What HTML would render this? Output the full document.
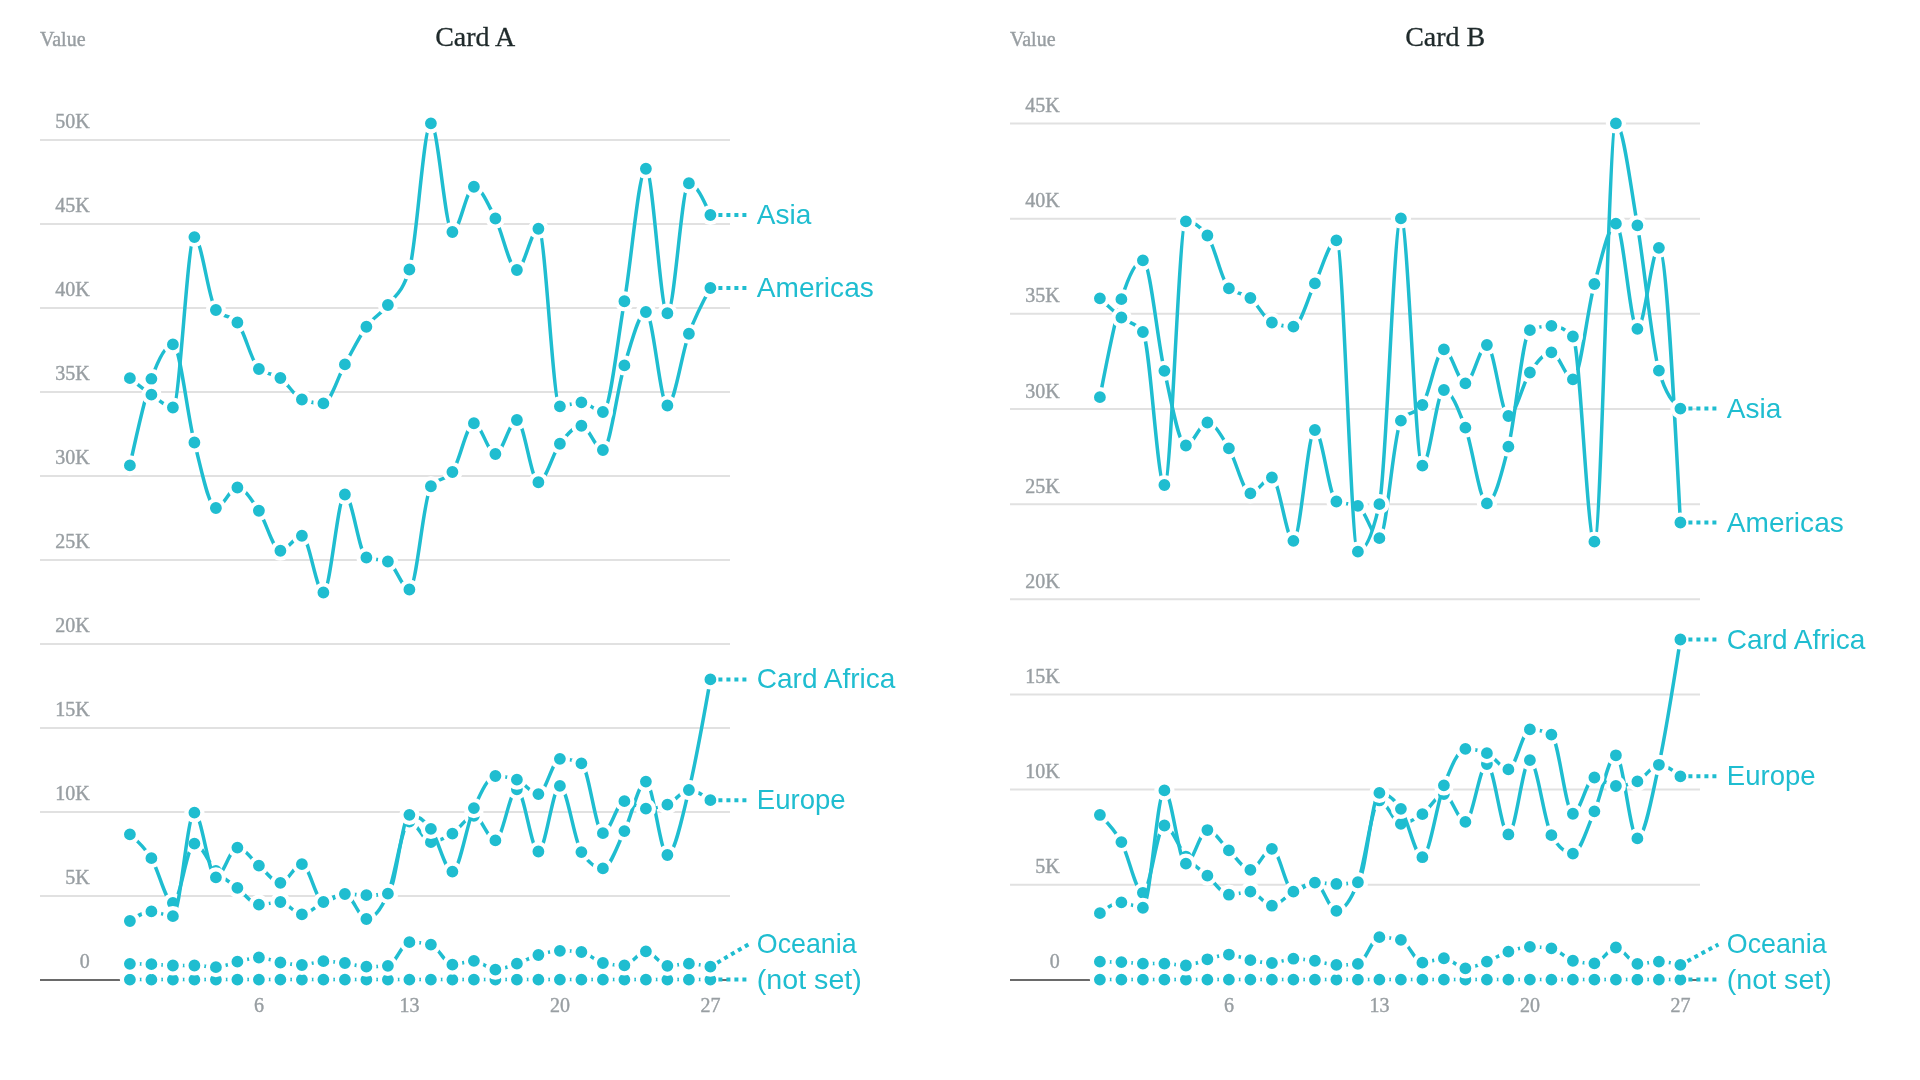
<!DOCTYPE html>
<html><head><meta charset="utf-8"><title>Cards</title>
<style>
html,body{margin:0;padding:0;background:#fff;}
body{width:1920px;height:1080px;overflow:hidden;}
svg{display:block;will-change:transform;}
.ax{font-family:"Liberation Serif",serif;font-size:20px;fill:#989ea2;stroke:#989ea2;stroke-width:0.4px;}
.ttl{font-family:"Liberation Serif",serif;font-size:28px;fill:#1f2a2b;stroke:#1f2a2b;stroke-width:0.3px;}
.ln{fill:none;stroke:#1fbdd0;stroke-width:3.5;stroke-linejoin:round;stroke-linecap:round;}
.mk circle{fill:#1fbdd0;stroke:#fff;stroke-width:4.2;}
.cn{stroke:#1fbdd0;stroke-width:4;stroke-dasharray:4 4;}
.lb{font-family:"Liberation Sans",sans-serif;font-size:27.5px;fill:#1fbdd0;}
</style></head>
<body>
<svg width="1920" height="1080" viewBox="0 0 1920 1080">
<text x="40.0" y="45.8" class="ax">Value</text>
<text x="475.2" y="45.9" class="ttl" text-anchor="middle">Card A</text>
<line x1="40.0" x2="730.0" y1="139.90" y2="139.90" stroke="#e1e1e1" stroke-width="2"/>
<text x="89.7" y="128.40" class="ax" text-anchor="end">50K</text>
<line x1="40.0" x2="730.0" y1="223.90" y2="223.90" stroke="#e1e1e1" stroke-width="2"/>
<text x="89.7" y="212.40" class="ax" text-anchor="end">45K</text>
<line x1="40.0" x2="730.0" y1="307.90" y2="307.90" stroke="#e1e1e1" stroke-width="2"/>
<text x="89.7" y="296.40" class="ax" text-anchor="end">40K</text>
<line x1="40.0" x2="730.0" y1="391.90" y2="391.90" stroke="#e1e1e1" stroke-width="2"/>
<text x="89.7" y="380.40" class="ax" text-anchor="end">35K</text>
<line x1="40.0" x2="730.0" y1="475.90" y2="475.90" stroke="#e1e1e1" stroke-width="2"/>
<text x="89.7" y="464.40" class="ax" text-anchor="end">30K</text>
<line x1="40.0" x2="730.0" y1="559.90" y2="559.90" stroke="#e1e1e1" stroke-width="2"/>
<text x="89.7" y="548.40" class="ax" text-anchor="end">25K</text>
<line x1="40.0" x2="730.0" y1="643.90" y2="643.90" stroke="#e1e1e1" stroke-width="2"/>
<text x="89.7" y="632.40" class="ax" text-anchor="end">20K</text>
<line x1="40.0" x2="730.0" y1="727.90" y2="727.90" stroke="#e1e1e1" stroke-width="2"/>
<text x="89.7" y="716.40" class="ax" text-anchor="end">15K</text>
<line x1="40.0" x2="730.0" y1="811.90" y2="811.90" stroke="#e1e1e1" stroke-width="2"/>
<text x="89.7" y="800.40" class="ax" text-anchor="end">10K</text>
<line x1="40.0" x2="730.0" y1="895.90" y2="895.90" stroke="#e1e1e1" stroke-width="2"/>
<text x="89.7" y="884.40" class="ax" text-anchor="end">5K</text>
<line x1="40.0" x2="730.0" y1="979.90" y2="979.90" stroke="#6a6a6a" stroke-width="2"/>
<text x="89.7" y="968.40" class="ax" text-anchor="end">0</text>
<text x="258.9" y="1011.7" class="ax" text-anchor="middle">6</text>
<text x="409.4" y="1011.7" class="ax" text-anchor="middle">13</text>
<text x="559.9" y="1011.7" class="ax" text-anchor="middle">20</text>
<text x="710.4" y="1011.7" class="ax" text-anchor="middle">27</text>
<path d="M129.90,979.60C137.07,979.60,144.23,979.60,151.40,979.60C158.57,979.60,165.73,979.60,172.90,979.60C180.07,979.60,187.23,979.60,194.40,979.60C201.57,979.60,208.73,979.60,215.90,979.60C223.07,979.60,230.23,979.60,237.40,979.60C244.57,979.60,251.73,979.60,258.90,979.60C266.07,979.60,273.23,979.60,280.40,979.60C287.57,979.60,294.73,979.60,301.90,979.60C309.07,979.60,316.23,979.60,323.40,979.60C330.57,979.60,337.73,979.60,344.90,979.60C352.07,979.60,359.23,979.60,366.40,979.60C373.57,979.60,380.73,979.60,387.90,979.60C395.07,979.60,402.23,979.60,409.40,979.60C416.57,979.60,423.73,979.60,430.90,979.60C438.07,979.60,445.23,979.60,452.40,979.60C459.57,979.60,466.73,979.60,473.90,979.60C481.07,979.60,488.23,979.60,495.40,979.60C502.57,979.60,509.73,979.60,516.90,979.60C524.07,979.60,531.23,979.60,538.40,979.60C545.57,979.60,552.73,979.60,559.90,979.60C567.07,979.60,574.23,979.60,581.40,979.60C588.57,979.60,595.73,979.60,602.90,979.60C610.07,979.60,617.23,979.60,624.40,979.60C631.57,979.60,638.73,979.60,645.90,979.60C653.07,979.60,660.23,979.60,667.40,979.60C674.57,979.60,681.73,979.60,688.90,979.60C696.07,979.60,703.23,979.60,710.40,979.60" class="ln"/>
<g class="mk"><circle cx="129.90" cy="979.60" r="8.0"/><circle cx="151.40" cy="979.60" r="8.0"/><circle cx="172.90" cy="979.60" r="8.0"/><circle cx="194.40" cy="979.60" r="8.0"/><circle cx="215.90" cy="979.60" r="8.0"/><circle cx="237.40" cy="979.60" r="8.0"/><circle cx="258.90" cy="979.60" r="8.0"/><circle cx="280.40" cy="979.60" r="8.0"/><circle cx="301.90" cy="979.60" r="8.0"/><circle cx="323.40" cy="979.60" r="8.0"/><circle cx="344.90" cy="979.60" r="8.0"/><circle cx="366.40" cy="979.60" r="8.0"/><circle cx="387.90" cy="979.60" r="8.0"/><circle cx="409.40" cy="979.60" r="8.0"/><circle cx="430.90" cy="979.60" r="8.0"/><circle cx="452.40" cy="979.60" r="8.0"/><circle cx="473.90" cy="979.60" r="8.0"/><circle cx="495.40" cy="979.60" r="8.0"/><circle cx="516.90" cy="979.60" r="8.0"/><circle cx="538.40" cy="979.60" r="8.0"/><circle cx="559.90" cy="979.60" r="8.0"/><circle cx="581.40" cy="979.60" r="8.0"/><circle cx="602.90" cy="979.60" r="8.0"/><circle cx="624.40" cy="979.60" r="8.0"/><circle cx="645.90" cy="979.60" r="8.0"/><circle cx="667.40" cy="979.60" r="8.0"/><circle cx="688.90" cy="979.60" r="8.0"/><circle cx="710.40" cy="979.60" r="8.0"/></g>
<path d="M129.90,465.40C137.07,432.18,144.23,398.97,151.40,378.80C158.57,358.63,165.73,344.40,172.90,344.40C180.07,344.40,187.23,415.23,194.40,442.50C201.57,469.77,208.73,508.00,215.90,508.00C223.07,508.00,230.23,487.50,237.40,487.50C244.57,487.50,251.73,500.21,258.90,510.75C266.07,521.29,273.23,550.75,280.40,550.75C287.57,550.75,294.73,535.75,301.90,535.75C309.07,535.75,316.23,592.50,323.40,592.50C330.57,592.50,337.73,494.50,344.90,494.50C352.07,494.50,359.23,554.83,366.40,557.50C373.57,560.17,380.73,558.83,387.90,561.50C395.07,564.17,402.23,589.50,409.40,589.50C416.57,589.50,423.73,495.75,430.90,486.25C438.07,476.75,445.23,481.50,452.40,472.00C459.57,462.50,466.73,423.25,473.90,423.25C481.07,423.25,488.23,454.00,495.40,454.00C502.57,454.00,509.73,420.00,516.90,420.00C524.07,420.00,531.23,482.25,538.40,482.25C545.57,482.25,552.73,453.17,559.90,443.75C567.07,434.33,574.23,425.75,581.40,425.75C588.57,425.75,595.73,450.00,602.90,450.00C610.07,450.00,617.23,388.40,624.40,365.40C631.57,342.40,638.73,312.00,645.90,312.00C653.07,312.00,660.23,405.50,667.40,405.50C674.57,405.50,681.73,353.33,688.90,333.75C696.07,314.17,703.23,301.08,710.40,288.00" class="ln"/>
<g class="mk"><circle cx="129.90" cy="465.40" r="8.0"/><circle cx="151.40" cy="378.80" r="8.0"/><circle cx="172.90" cy="344.40" r="8.0"/><circle cx="194.40" cy="442.50" r="8.0"/><circle cx="215.90" cy="508.00" r="8.0"/><circle cx="237.40" cy="487.50" r="8.0"/><circle cx="258.90" cy="510.75" r="8.0"/><circle cx="280.40" cy="550.75" r="8.0"/><circle cx="301.90" cy="535.75" r="8.0"/><circle cx="323.40" cy="592.50" r="8.0"/><circle cx="344.90" cy="494.50" r="8.0"/><circle cx="366.40" cy="557.50" r="8.0"/><circle cx="387.90" cy="561.50" r="8.0"/><circle cx="409.40" cy="589.50" r="8.0"/><circle cx="430.90" cy="486.25" r="8.0"/><circle cx="452.40" cy="472.00" r="8.0"/><circle cx="473.90" cy="423.25" r="8.0"/><circle cx="495.40" cy="454.00" r="8.0"/><circle cx="516.90" cy="420.00" r="8.0"/><circle cx="538.40" cy="482.25" r="8.0"/><circle cx="559.90" cy="443.75" r="8.0"/><circle cx="581.40" cy="425.75" r="8.0"/><circle cx="602.90" cy="450.00" r="8.0"/><circle cx="624.40" cy="365.40" r="8.0"/><circle cx="645.90" cy="312.00" r="8.0"/><circle cx="667.40" cy="405.50" r="8.0"/><circle cx="688.90" cy="333.75" r="8.0"/><circle cx="710.40" cy="288.00" r="8.0"/></g>
<path d="M129.90,378.20C137.07,384.01,144.23,389.82,151.40,394.70C158.57,399.58,165.73,407.50,172.90,407.50C180.07,407.50,187.23,237.10,194.40,237.10C201.57,237.10,208.73,301.67,215.90,310.00C223.07,318.33,230.23,314.17,237.40,322.50C244.57,330.83,251.73,363.00,258.90,369.00C266.07,375.00,273.23,372.92,280.40,378.00C287.57,383.08,294.73,396.97,301.90,399.50C309.07,402.03,316.23,403.30,323.40,403.30C330.57,403.30,337.73,377.16,344.90,364.40C352.07,351.64,359.23,336.65,366.40,326.75C373.57,316.85,380.73,314.54,387.90,305.00C395.07,295.46,402.23,293.17,409.40,269.50C416.57,245.83,423.73,123.30,430.90,123.30C438.07,123.30,445.23,232.00,452.40,232.00C459.57,232.00,466.73,186.75,473.90,186.75C481.07,186.75,488.23,204.62,495.40,218.50C502.57,232.38,509.73,270.00,516.90,270.00C524.07,270.00,531.23,228.75,538.40,228.75C545.57,228.75,552.73,406.30,559.90,406.30C567.07,406.30,574.23,402.30,581.40,402.30C588.57,402.30,595.73,412.00,602.90,412.00C610.07,412.00,617.23,341.79,624.40,301.25C631.57,260.71,638.73,168.75,645.90,168.75C653.07,168.75,660.23,313.25,667.40,313.25C674.57,313.25,681.73,183.25,688.90,183.25C696.07,183.25,703.23,199.12,710.40,215.00" class="ln"/>
<g class="mk"><circle cx="129.90" cy="378.20" r="8.0"/><circle cx="151.40" cy="394.70" r="8.0"/><circle cx="172.90" cy="407.50" r="8.0"/><circle cx="194.40" cy="237.10" r="8.0"/><circle cx="215.90" cy="310.00" r="8.0"/><circle cx="237.40" cy="322.50" r="8.0"/><circle cx="258.90" cy="369.00" r="8.0"/><circle cx="280.40" cy="378.00" r="8.0"/><circle cx="301.90" cy="399.50" r="8.0"/><circle cx="323.40" cy="403.30" r="8.0"/><circle cx="344.90" cy="364.40" r="8.0"/><circle cx="366.40" cy="326.75" r="8.0"/><circle cx="387.90" cy="305.00" r="8.0"/><circle cx="409.40" cy="269.50" r="8.0"/><circle cx="430.90" cy="123.30" r="8.0"/><circle cx="452.40" cy="232.00" r="8.0"/><circle cx="473.90" cy="186.75" r="8.0"/><circle cx="495.40" cy="218.50" r="8.0"/><circle cx="516.90" cy="270.00" r="8.0"/><circle cx="538.40" cy="228.75" r="8.0"/><circle cx="559.90" cy="406.30" r="8.0"/><circle cx="581.40" cy="402.30" r="8.0"/><circle cx="602.90" cy="412.00" r="8.0"/><circle cx="624.40" cy="301.25" r="8.0"/><circle cx="645.90" cy="168.75" r="8.0"/><circle cx="667.40" cy="313.25" r="8.0"/><circle cx="688.90" cy="183.25" r="8.0"/><circle cx="710.40" cy="215.00" r="8.0"/></g>
<path d="M129.90,834.30C137.07,840.52,144.23,846.75,151.40,858.20C158.57,869.65,165.73,903.00,172.90,903.00C180.07,903.00,187.23,843.60,194.40,843.60C201.57,843.60,208.73,863.62,215.90,871.00C223.07,878.38,230.23,882.28,237.40,887.90C244.57,893.52,251.73,904.70,258.90,904.70C266.07,904.70,273.23,902.00,280.40,902.00C287.57,902.00,294.73,914.40,301.90,914.40C309.07,914.40,316.23,905.40,323.40,902.00C330.57,898.60,337.73,894.00,344.90,894.00C352.07,894.00,359.23,919.00,366.40,919.00C373.57,919.00,380.73,909.95,387.90,893.70C395.07,877.45,402.23,821.50,409.40,821.50C416.57,821.50,423.73,842.20,430.90,842.20C438.07,842.20,445.23,838.00,452.40,833.60C459.57,829.20,466.73,815.80,473.90,815.80C481.07,815.80,488.23,840.40,495.40,840.40C502.57,840.40,509.73,789.30,516.90,789.30C524.07,789.30,531.23,851.50,538.40,851.50C545.57,851.50,552.73,785.90,559.90,785.90C567.07,785.90,574.23,841.23,581.40,852.10C588.57,862.97,595.73,868.40,602.90,868.40C610.07,868.40,617.23,845.57,624.40,831.10C631.57,816.63,638.73,781.60,645.90,781.60C653.07,781.60,660.23,855.00,667.40,855.00C674.57,855.00,681.73,819.27,688.90,790.00C696.07,760.73,703.23,720.07,710.40,679.40" class="ln"/>
<g class="mk"><circle cx="129.90" cy="834.30" r="8.0"/><circle cx="151.40" cy="858.20" r="8.0"/><circle cx="172.90" cy="903.00" r="8.0"/><circle cx="194.40" cy="843.60" r="8.0"/><circle cx="215.90" cy="871.00" r="8.0"/><circle cx="237.40" cy="887.90" r="8.0"/><circle cx="258.90" cy="904.70" r="8.0"/><circle cx="280.40" cy="902.00" r="8.0"/><circle cx="301.90" cy="914.40" r="8.0"/><circle cx="323.40" cy="902.00" r="8.0"/><circle cx="344.90" cy="894.00" r="8.0"/><circle cx="366.40" cy="919.00" r="8.0"/><circle cx="387.90" cy="893.70" r="8.0"/><circle cx="409.40" cy="821.50" r="8.0"/><circle cx="430.90" cy="842.20" r="8.0"/><circle cx="452.40" cy="833.60" r="8.0"/><circle cx="473.90" cy="815.80" r="8.0"/><circle cx="495.40" cy="840.40" r="8.0"/><circle cx="516.90" cy="789.30" r="8.0"/><circle cx="538.40" cy="851.50" r="8.0"/><circle cx="559.90" cy="785.90" r="8.0"/><circle cx="581.40" cy="852.10" r="8.0"/><circle cx="602.90" cy="868.40" r="8.0"/><circle cx="624.40" cy="831.10" r="8.0"/><circle cx="645.90" cy="781.60" r="8.0"/><circle cx="667.40" cy="855.00" r="8.0"/><circle cx="688.90" cy="790.00" r="8.0"/><circle cx="710.40" cy="679.40" r="8.0"/></g>
<path d="M129.90,921.00C137.07,916.20,144.23,911.40,151.40,911.40C158.57,911.40,165.73,916.20,172.90,916.20C180.07,916.20,187.23,812.60,194.40,812.60C201.57,812.60,208.73,877.30,215.90,877.30C223.07,877.30,230.23,847.60,237.40,847.60C244.57,847.60,251.73,859.73,258.90,865.60C266.07,871.47,273.23,882.80,280.40,882.80C287.57,882.80,294.73,864.20,301.90,864.20C309.07,864.20,316.23,902.00,323.40,902.00C330.57,902.00,337.73,894.00,344.90,894.00C352.07,894.00,359.23,895.20,366.40,895.20C373.57,895.20,380.73,894.70,387.90,893.70C395.07,892.70,402.23,814.80,409.40,814.80C416.57,814.80,423.73,819.50,430.90,828.90C438.07,838.30,445.23,871.60,452.40,871.60C459.57,871.60,466.73,824.03,473.90,808.10C481.07,792.17,488.23,776.00,495.40,776.00C502.57,776.00,509.73,777.23,516.90,779.70C524.07,782.17,531.23,794.10,538.40,794.10C545.57,794.10,552.73,758.80,559.90,758.80C567.07,758.80,574.23,760.30,581.40,763.30C588.57,766.30,595.73,833.20,602.90,833.20C610.07,833.20,617.23,801.20,624.40,801.20C631.57,801.20,638.73,808.70,645.90,808.70C653.07,808.70,660.23,807.37,667.40,804.70C674.57,802.03,681.73,790.00,688.90,790.00C696.07,790.00,703.23,795.10,710.40,800.20" class="ln"/>
<g class="mk"><circle cx="129.90" cy="921.00" r="8.0"/><circle cx="151.40" cy="911.40" r="8.0"/><circle cx="172.90" cy="916.20" r="8.0"/><circle cx="194.40" cy="812.60" r="8.0"/><circle cx="215.90" cy="877.30" r="8.0"/><circle cx="237.40" cy="847.60" r="8.0"/><circle cx="258.90" cy="865.60" r="8.0"/><circle cx="280.40" cy="882.80" r="8.0"/><circle cx="301.90" cy="864.20" r="8.0"/><circle cx="323.40" cy="902.00" r="8.0"/><circle cx="344.90" cy="894.00" r="8.0"/><circle cx="366.40" cy="895.20" r="8.0"/><circle cx="387.90" cy="893.70" r="8.0"/><circle cx="409.40" cy="814.80" r="8.0"/><circle cx="430.90" cy="828.90" r="8.0"/><circle cx="452.40" cy="871.60" r="8.0"/><circle cx="473.90" cy="808.10" r="8.0"/><circle cx="495.40" cy="776.00" r="8.0"/><circle cx="516.90" cy="779.70" r="8.0"/><circle cx="538.40" cy="794.10" r="8.0"/><circle cx="559.90" cy="758.80" r="8.0"/><circle cx="581.40" cy="763.30" r="8.0"/><circle cx="602.90" cy="833.20" r="8.0"/><circle cx="624.40" cy="801.20" r="8.0"/><circle cx="645.90" cy="808.70" r="8.0"/><circle cx="667.40" cy="804.70" r="8.0"/><circle cx="688.90" cy="790.00" r="8.0"/><circle cx="710.40" cy="800.20" r="8.0"/></g>
<path d="M129.90,963.80C137.07,963.87,144.23,963.93,151.40,964.20C158.57,964.47,165.73,965.50,172.90,965.50C180.07,965.50,187.23,965.50,194.40,965.50C201.57,965.50,208.73,967.20,215.90,967.20C223.07,967.20,230.23,963.32,237.40,961.70C244.57,960.08,251.73,957.50,258.90,957.50C266.07,957.50,273.23,961.25,280.40,962.50C287.57,963.75,294.73,965.00,301.90,965.00C309.07,965.00,316.23,961.20,323.40,961.20C330.57,961.20,337.73,962.08,344.90,963.00C352.07,963.92,359.23,966.70,366.40,966.70C373.57,966.70,380.73,966.40,387.90,965.80C395.07,965.20,402.23,942.20,409.40,942.20C416.57,942.20,423.73,943.00,430.90,944.60C438.07,946.20,445.23,964.70,452.40,964.70C459.57,964.70,466.73,960.80,473.90,960.80C481.07,960.80,488.23,969.70,495.40,969.70C502.57,969.70,509.73,966.15,516.90,963.70C524.07,961.25,531.23,957.15,538.40,955.00C545.57,952.85,552.73,950.80,559.90,950.80C567.07,950.80,574.23,951.20,581.40,952.00C588.57,952.80,595.73,961.47,602.90,963.00C610.07,964.53,617.23,965.30,624.40,965.30C631.57,965.30,638.73,951.30,645.90,951.30C653.07,951.30,660.23,965.80,667.40,965.80C674.57,965.80,681.73,963.70,688.90,963.70C696.07,963.70,703.23,965.20,710.40,966.70" class="ln"/>
<g class="mk"><circle cx="129.90" cy="963.80" r="8.0"/><circle cx="151.40" cy="964.20" r="8.0"/><circle cx="172.90" cy="965.50" r="8.0"/><circle cx="194.40" cy="965.50" r="8.0"/><circle cx="215.90" cy="967.20" r="8.0"/><circle cx="237.40" cy="961.70" r="8.0"/><circle cx="258.90" cy="957.50" r="8.0"/><circle cx="280.40" cy="962.50" r="8.0"/><circle cx="301.90" cy="965.00" r="8.0"/><circle cx="323.40" cy="961.20" r="8.0"/><circle cx="344.90" cy="963.00" r="8.0"/><circle cx="366.40" cy="966.70" r="8.0"/><circle cx="387.90" cy="965.80" r="8.0"/><circle cx="409.40" cy="942.20" r="8.0"/><circle cx="430.90" cy="944.60" r="8.0"/><circle cx="452.40" cy="964.70" r="8.0"/><circle cx="473.90" cy="960.80" r="8.0"/><circle cx="495.40" cy="969.70" r="8.0"/><circle cx="516.90" cy="963.70" r="8.0"/><circle cx="538.40" cy="955.00" r="8.0"/><circle cx="559.90" cy="950.80" r="8.0"/><circle cx="581.40" cy="952.00" r="8.0"/><circle cx="602.90" cy="963.00" r="8.0"/><circle cx="624.40" cy="965.30" r="8.0"/><circle cx="645.90" cy="951.30" r="8.0"/><circle cx="667.40" cy="965.80" r="8.0"/><circle cx="688.90" cy="963.70" r="8.0"/><circle cx="710.40" cy="966.70" r="8.0"/></g>
<line x1="710.40" y1="979.60" x2="748.40" y2="979.60" class="cn"/>
<text x="756.8" y="988.65" class="lb" textLength="105.0" lengthAdjust="spacingAndGlyphs">(not set)</text>
<line x1="710.40" y1="288.00" x2="748.40" y2="288.00" class="cn"/>
<text x="756.8" y="297.05" class="lb" textLength="117.0" lengthAdjust="spacingAndGlyphs">Americas</text>
<line x1="710.40" y1="215.00" x2="748.40" y2="215.00" class="cn"/>
<text x="756.8" y="224.05" class="lb" textLength="54.5" lengthAdjust="spacingAndGlyphs">Asia</text>
<line x1="710.40" y1="679.40" x2="748.40" y2="679.40" class="cn"/>
<text x="756.8" y="688.45" class="lb" textLength="138.5" lengthAdjust="spacingAndGlyphs">Card Africa</text>
<line x1="710.40" y1="800.20" x2="748.40" y2="800.20" class="cn"/>
<text x="756.8" y="809.25" class="lb" textLength="88.8" lengthAdjust="spacingAndGlyphs">Europe</text>
<line x1="710.40" y1="966.70" x2="748.40" y2="944.40" class="cn"/>
<text x="756.8" y="953.05" class="lb" textLength="99.8" lengthAdjust="spacingAndGlyphs">Oceania</text>
<text x="1010.0" y="45.8" class="ax">Value</text>
<text x="1445.2" y="45.9" class="ttl" text-anchor="middle">Card B</text>
<line x1="1010.0" x2="1700.0" y1="123.55" y2="123.55" stroke="#e1e1e1" stroke-width="2"/>
<text x="1059.7" y="112.05" class="ax" text-anchor="end">45K</text>
<line x1="1010.0" x2="1700.0" y1="218.70" y2="218.70" stroke="#e1e1e1" stroke-width="2"/>
<text x="1059.7" y="207.20" class="ax" text-anchor="end">40K</text>
<line x1="1010.0" x2="1700.0" y1="313.85" y2="313.85" stroke="#e1e1e1" stroke-width="2"/>
<text x="1059.7" y="302.35" class="ax" text-anchor="end">35K</text>
<line x1="1010.0" x2="1700.0" y1="409.00" y2="409.00" stroke="#e1e1e1" stroke-width="2"/>
<text x="1059.7" y="397.50" class="ax" text-anchor="end">30K</text>
<line x1="1010.0" x2="1700.0" y1="504.15" y2="504.15" stroke="#e1e1e1" stroke-width="2"/>
<text x="1059.7" y="492.65" class="ax" text-anchor="end">25K</text>
<line x1="1010.0" x2="1700.0" y1="599.30" y2="599.30" stroke="#e1e1e1" stroke-width="2"/>
<text x="1059.7" y="587.80" class="ax" text-anchor="end">20K</text>
<line x1="1010.0" x2="1700.0" y1="694.45" y2="694.45" stroke="#e1e1e1" stroke-width="2"/>
<text x="1059.7" y="682.95" class="ax" text-anchor="end">15K</text>
<line x1="1010.0" x2="1700.0" y1="789.60" y2="789.60" stroke="#e1e1e1" stroke-width="2"/>
<text x="1059.7" y="778.10" class="ax" text-anchor="end">10K</text>
<line x1="1010.0" x2="1700.0" y1="884.75" y2="884.75" stroke="#e1e1e1" stroke-width="2"/>
<text x="1059.7" y="873.25" class="ax" text-anchor="end">5K</text>
<line x1="1010.0" x2="1700.0" y1="979.90" y2="979.90" stroke="#6a6a6a" stroke-width="2"/>
<text x="1059.7" y="968.40" class="ax" text-anchor="end">0</text>
<text x="1228.9" y="1011.7" class="ax" text-anchor="middle">6</text>
<text x="1379.4" y="1011.7" class="ax" text-anchor="middle">13</text>
<text x="1529.9" y="1011.7" class="ax" text-anchor="middle">20</text>
<text x="1680.4" y="1011.7" class="ax" text-anchor="middle">27</text>
<path d="M1099.90,979.60C1107.07,979.60,1114.23,979.60,1121.40,979.60C1128.57,979.60,1135.73,979.60,1142.90,979.60C1150.07,979.60,1157.23,979.60,1164.40,979.60C1171.57,979.60,1178.73,979.60,1185.90,979.60C1193.07,979.60,1200.23,979.60,1207.40,979.60C1214.57,979.60,1221.73,979.60,1228.90,979.60C1236.07,979.60,1243.23,979.60,1250.40,979.60C1257.57,979.60,1264.73,979.60,1271.90,979.60C1279.07,979.60,1286.23,979.60,1293.40,979.60C1300.57,979.60,1307.73,979.60,1314.90,979.60C1322.07,979.60,1329.23,979.60,1336.40,979.60C1343.57,979.60,1350.73,979.60,1357.90,979.60C1365.07,979.60,1372.23,979.60,1379.40,979.60C1386.57,979.60,1393.73,979.60,1400.90,979.60C1408.07,979.60,1415.23,979.60,1422.40,979.60C1429.57,979.60,1436.73,979.60,1443.90,979.60C1451.07,979.60,1458.23,979.60,1465.40,979.60C1472.57,979.60,1479.73,979.60,1486.90,979.60C1494.07,979.60,1501.23,979.60,1508.40,979.60C1515.57,979.60,1522.73,979.60,1529.90,979.60C1537.07,979.60,1544.23,979.60,1551.40,979.60C1558.57,979.60,1565.73,979.60,1572.90,979.60C1580.07,979.60,1587.23,979.60,1594.40,979.60C1601.57,979.60,1608.73,979.60,1615.90,979.60C1623.07,979.60,1630.23,979.60,1637.40,979.60C1644.57,979.60,1651.73,979.60,1658.90,979.60C1666.07,979.60,1673.23,979.60,1680.40,979.60" class="ln"/>
<g class="mk"><circle cx="1099.90" cy="979.60" r="8.0"/><circle cx="1121.40" cy="979.60" r="8.0"/><circle cx="1142.90" cy="979.60" r="8.0"/><circle cx="1164.40" cy="979.60" r="8.0"/><circle cx="1185.90" cy="979.60" r="8.0"/><circle cx="1207.40" cy="979.60" r="8.0"/><circle cx="1228.90" cy="979.60" r="8.0"/><circle cx="1250.40" cy="979.60" r="8.0"/><circle cx="1271.90" cy="979.60" r="8.0"/><circle cx="1293.40" cy="979.60" r="8.0"/><circle cx="1314.90" cy="979.60" r="8.0"/><circle cx="1336.40" cy="979.60" r="8.0"/><circle cx="1357.90" cy="979.60" r="8.0"/><circle cx="1379.40" cy="979.60" r="8.0"/><circle cx="1400.90" cy="979.60" r="8.0"/><circle cx="1422.40" cy="979.60" r="8.0"/><circle cx="1443.90" cy="979.60" r="8.0"/><circle cx="1465.40" cy="979.60" r="8.0"/><circle cx="1486.90" cy="979.60" r="8.0"/><circle cx="1508.40" cy="979.60" r="8.0"/><circle cx="1529.90" cy="979.60" r="8.0"/><circle cx="1551.40" cy="979.60" r="8.0"/><circle cx="1572.90" cy="979.60" r="8.0"/><circle cx="1594.40" cy="979.60" r="8.0"/><circle cx="1615.90" cy="979.60" r="8.0"/><circle cx="1637.40" cy="979.60" r="8.0"/><circle cx="1658.90" cy="979.60" r="8.0"/><circle cx="1680.40" cy="979.60" r="8.0"/></g>
<path d="M1099.90,397.20C1107.07,359.61,1114.23,322.02,1121.40,299.20C1128.57,276.38,1135.73,260.30,1142.90,260.30C1150.07,260.30,1157.23,339.93,1164.40,370.80C1171.57,401.67,1178.73,445.50,1185.90,445.50C1193.07,445.50,1200.23,422.50,1207.40,422.50C1214.57,422.50,1221.73,436.50,1228.90,448.30C1236.07,460.10,1243.23,493.30,1250.40,493.30C1257.57,493.30,1264.73,477.50,1271.90,477.50C1279.07,477.50,1286.23,540.80,1293.40,540.80C1300.57,540.80,1307.73,430.00,1314.90,430.00C1322.07,430.00,1329.23,498.63,1336.40,501.50C1343.57,504.37,1350.73,502.93,1357.90,505.80C1365.07,508.67,1372.23,538.20,1379.40,538.20C1386.57,538.20,1393.73,431.17,1400.90,420.70C1408.07,410.23,1415.23,415.47,1422.40,405.00C1429.57,394.53,1436.73,349.30,1443.90,349.30C1451.07,349.30,1458.23,383.30,1465.40,383.30C1472.57,383.30,1479.73,345.00,1486.90,345.00C1494.07,345.00,1501.23,416.00,1508.40,416.00C1515.57,416.00,1522.73,383.12,1529.90,372.50C1537.07,361.88,1544.23,352.30,1551.40,352.30C1558.57,352.30,1565.73,379.30,1572.90,379.30C1580.07,379.30,1587.23,309.93,1594.40,284.00C1601.57,258.07,1608.73,223.70,1615.90,223.70C1623.07,223.70,1630.23,328.80,1637.40,328.80C1644.57,328.80,1651.73,247.80,1658.90,247.80C1666.07,247.80,1673.23,385.15,1680.40,522.50" class="ln"/>
<g class="mk"><circle cx="1099.90" cy="397.20" r="8.0"/><circle cx="1121.40" cy="299.20" r="8.0"/><circle cx="1142.90" cy="260.30" r="8.0"/><circle cx="1164.40" cy="370.80" r="8.0"/><circle cx="1185.90" cy="445.50" r="8.0"/><circle cx="1207.40" cy="422.50" r="8.0"/><circle cx="1228.90" cy="448.30" r="8.0"/><circle cx="1250.40" cy="493.30" r="8.0"/><circle cx="1271.90" cy="477.50" r="8.0"/><circle cx="1293.40" cy="540.80" r="8.0"/><circle cx="1314.90" cy="430.00" r="8.0"/><circle cx="1336.40" cy="501.50" r="8.0"/><circle cx="1357.90" cy="505.80" r="8.0"/><circle cx="1379.40" cy="538.20" r="8.0"/><circle cx="1400.90" cy="420.70" r="8.0"/><circle cx="1422.40" cy="405.00" r="8.0"/><circle cx="1443.90" cy="349.30" r="8.0"/><circle cx="1465.40" cy="383.30" r="8.0"/><circle cx="1486.90" cy="345.00" r="8.0"/><circle cx="1508.40" cy="416.00" r="8.0"/><circle cx="1529.90" cy="372.50" r="8.0"/><circle cx="1551.40" cy="352.30" r="8.0"/><circle cx="1572.90" cy="379.30" r="8.0"/><circle cx="1594.40" cy="284.00" r="8.0"/><circle cx="1615.90" cy="223.70" r="8.0"/><circle cx="1637.40" cy="328.80" r="8.0"/><circle cx="1658.90" cy="247.80" r="8.0"/><circle cx="1680.40" cy="522.50" r="8.0"/></g>
<path d="M1099.90,298.30C1107.07,305.09,1114.23,311.88,1121.40,317.50C1128.57,323.12,1135.73,322.33,1142.90,332.00C1150.07,341.67,1157.23,485.00,1164.40,485.00C1171.57,485.00,1178.73,221.30,1185.90,221.30C1193.07,221.30,1200.23,226.03,1207.40,235.50C1214.57,244.97,1221.73,281.83,1228.90,288.30C1236.07,294.77,1243.23,292.30,1250.40,298.00C1257.57,303.70,1264.73,319.70,1271.90,322.50C1279.07,325.30,1286.23,326.70,1293.40,326.70C1300.57,326.70,1307.73,297.70,1314.90,283.30C1322.07,268.90,1329.23,240.30,1336.40,240.30C1343.57,240.30,1350.73,551.70,1357.90,551.70C1365.07,551.70,1372.23,535.87,1379.40,504.20C1386.57,472.53,1393.73,218.40,1400.90,218.40C1408.07,218.40,1415.23,465.70,1422.40,465.70C1429.57,465.70,1436.73,390.00,1443.90,390.00C1451.07,390.00,1458.23,408.82,1465.40,427.70C1472.57,446.58,1479.73,503.30,1486.90,503.30C1494.07,503.30,1501.23,475.55,1508.40,446.70C1515.57,417.85,1522.73,333.13,1529.90,330.20C1537.07,327.27,1544.23,325.80,1551.40,325.80C1558.57,325.80,1565.73,329.37,1572.90,336.50C1580.07,343.63,1587.23,541.70,1594.40,541.70C1601.57,541.70,1608.73,123.30,1615.90,123.30C1623.07,123.30,1630.23,184.08,1637.40,225.30C1644.57,266.52,1651.73,345.27,1658.90,370.60C1666.07,395.93,1673.23,402.27,1680.40,408.60" class="ln"/>
<g class="mk"><circle cx="1099.90" cy="298.30" r="8.0"/><circle cx="1121.40" cy="317.50" r="8.0"/><circle cx="1142.90" cy="332.00" r="8.0"/><circle cx="1164.40" cy="485.00" r="8.0"/><circle cx="1185.90" cy="221.30" r="8.0"/><circle cx="1207.40" cy="235.50" r="8.0"/><circle cx="1228.90" cy="288.30" r="8.0"/><circle cx="1250.40" cy="298.00" r="8.0"/><circle cx="1271.90" cy="322.50" r="8.0"/><circle cx="1293.40" cy="326.70" r="8.0"/><circle cx="1314.90" cy="283.30" r="8.0"/><circle cx="1336.40" cy="240.30" r="8.0"/><circle cx="1357.90" cy="551.70" r="8.0"/><circle cx="1379.40" cy="504.20" r="8.0"/><circle cx="1400.90" cy="218.40" r="8.0"/><circle cx="1422.40" cy="465.70" r="8.0"/><circle cx="1443.90" cy="390.00" r="8.0"/><circle cx="1465.40" cy="427.70" r="8.0"/><circle cx="1486.90" cy="503.30" r="8.0"/><circle cx="1508.40" cy="446.70" r="8.0"/><circle cx="1529.90" cy="330.20" r="8.0"/><circle cx="1551.40" cy="325.80" r="8.0"/><circle cx="1572.90" cy="336.50" r="8.0"/><circle cx="1594.40" cy="541.70" r="8.0"/><circle cx="1615.90" cy="123.30" r="8.0"/><circle cx="1637.40" cy="225.30" r="8.0"/><circle cx="1658.90" cy="370.60" r="8.0"/><circle cx="1680.40" cy="408.60" r="8.0"/></g>
<path d="M1099.90,814.97C1107.07,822.02,1114.23,829.08,1121.40,842.05C1128.57,855.02,1135.73,892.79,1142.90,892.79C1150.07,892.79,1157.23,825.51,1164.40,825.51C1171.57,825.51,1178.73,848.18,1185.90,856.54C1193.07,864.91,1200.23,869.33,1207.40,875.69C1214.57,882.05,1221.73,894.72,1228.90,894.72C1236.07,894.72,1243.23,891.66,1250.40,891.66C1257.57,891.66,1264.73,905.71,1271.90,905.71C1279.07,905.71,1286.23,895.51,1293.40,891.66C1300.57,887.81,1307.73,882.60,1314.90,882.60C1322.07,882.60,1329.23,910.92,1336.40,910.92C1343.57,910.92,1350.73,900.66,1357.90,882.26C1365.07,863.85,1372.23,800.47,1379.40,800.47C1386.57,800.47,1393.73,823.92,1400.90,823.92C1408.07,823.92,1415.23,819.16,1422.40,814.18C1429.57,809.20,1436.73,794.02,1443.90,794.02C1451.07,794.02,1458.23,821.88,1465.40,821.88C1472.57,821.88,1479.73,764.00,1486.90,764.00C1494.07,764.00,1501.23,834.46,1508.40,834.46C1515.57,834.46,1522.73,760.15,1529.90,760.15C1537.07,760.15,1544.23,822.83,1551.40,835.14C1558.57,847.45,1565.73,853.60,1572.90,853.60C1580.07,853.60,1587.23,827.74,1594.40,811.35C1601.57,794.96,1608.73,755.28,1615.90,755.28C1623.07,755.28,1630.23,838.42,1637.40,838.42C1644.57,838.42,1651.73,797.94,1658.90,764.79C1666.07,731.64,1673.23,685.58,1680.40,639.51" class="ln"/>
<g class="mk"><circle cx="1099.90" cy="814.97" r="8.0"/><circle cx="1121.40" cy="842.05" r="8.0"/><circle cx="1142.90" cy="892.79" r="8.0"/><circle cx="1164.40" cy="825.51" r="8.0"/><circle cx="1185.90" cy="856.54" r="8.0"/><circle cx="1207.40" cy="875.69" r="8.0"/><circle cx="1228.90" cy="894.72" r="8.0"/><circle cx="1250.40" cy="891.66" r="8.0"/><circle cx="1271.90" cy="905.71" r="8.0"/><circle cx="1293.40" cy="891.66" r="8.0"/><circle cx="1314.90" cy="882.60" r="8.0"/><circle cx="1336.40" cy="910.92" r="8.0"/><circle cx="1357.90" cy="882.26" r="8.0"/><circle cx="1379.40" cy="800.47" r="8.0"/><circle cx="1400.90" cy="823.92" r="8.0"/><circle cx="1422.40" cy="814.18" r="8.0"/><circle cx="1443.90" cy="794.02" r="8.0"/><circle cx="1465.40" cy="821.88" r="8.0"/><circle cx="1486.90" cy="764.00" r="8.0"/><circle cx="1508.40" cy="834.46" r="8.0"/><circle cx="1529.90" cy="760.15" r="8.0"/><circle cx="1551.40" cy="835.14" r="8.0"/><circle cx="1572.90" cy="853.60" r="8.0"/><circle cx="1594.40" cy="811.35" r="8.0"/><circle cx="1615.90" cy="755.28" r="8.0"/><circle cx="1637.40" cy="838.42" r="8.0"/><circle cx="1658.90" cy="764.79" r="8.0"/><circle cx="1680.40" cy="639.51" r="8.0"/></g>
<path d="M1099.90,913.18C1107.07,907.74,1114.23,902.31,1121.40,902.31C1128.57,902.31,1135.73,907.74,1142.90,907.74C1150.07,907.74,1157.23,790.39,1164.40,790.39C1171.57,790.39,1178.73,863.68,1185.90,863.68C1193.07,863.68,1200.23,830.04,1207.40,830.04C1214.57,830.04,1221.73,843.78,1228.90,850.43C1236.07,857.07,1243.23,869.91,1250.40,869.91C1257.57,869.91,1264.73,848.84,1271.90,848.84C1279.07,848.84,1286.23,891.66,1293.40,891.66C1300.57,891.66,1307.73,882.60,1314.90,882.60C1322.07,882.60,1329.23,883.96,1336.40,883.96C1343.57,883.96,1350.73,883.39,1357.90,882.26C1365.07,881.13,1372.23,792.88,1379.40,792.88C1386.57,792.88,1393.73,798.21,1400.90,808.86C1408.07,819.50,1415.23,857.22,1422.40,857.22C1429.57,857.22,1436.73,803.34,1443.90,785.30C1451.07,767.25,1458.23,748.93,1465.40,748.93C1472.57,748.93,1479.73,750.33,1486.90,753.13C1494.07,755.92,1501.23,769.44,1508.40,769.44C1515.57,769.44,1522.73,729.45,1529.90,729.45C1537.07,729.45,1544.23,731.15,1551.40,734.55C1558.57,737.95,1565.73,813.73,1572.90,813.73C1580.07,813.73,1587.23,777.48,1594.40,777.48C1601.57,777.48,1608.73,785.98,1615.90,785.98C1623.07,785.98,1630.23,784.46,1637.40,781.44C1644.57,778.42,1651.73,764.79,1658.90,764.79C1666.07,764.79,1673.23,770.57,1680.40,776.35" class="ln"/>
<g class="mk"><circle cx="1099.90" cy="913.18" r="8.0"/><circle cx="1121.40" cy="902.31" r="8.0"/><circle cx="1142.90" cy="907.74" r="8.0"/><circle cx="1164.40" cy="790.39" r="8.0"/><circle cx="1185.90" cy="863.68" r="8.0"/><circle cx="1207.40" cy="830.04" r="8.0"/><circle cx="1228.90" cy="850.43" r="8.0"/><circle cx="1250.40" cy="869.91" r="8.0"/><circle cx="1271.90" cy="848.84" r="8.0"/><circle cx="1293.40" cy="891.66" r="8.0"/><circle cx="1314.90" cy="882.60" r="8.0"/><circle cx="1336.40" cy="883.96" r="8.0"/><circle cx="1357.90" cy="882.26" r="8.0"/><circle cx="1379.40" cy="792.88" r="8.0"/><circle cx="1400.90" cy="808.86" r="8.0"/><circle cx="1422.40" cy="857.22" r="8.0"/><circle cx="1443.90" cy="785.30" r="8.0"/><circle cx="1465.40" cy="748.93" r="8.0"/><circle cx="1486.90" cy="753.13" r="8.0"/><circle cx="1508.40" cy="769.44" r="8.0"/><circle cx="1529.90" cy="729.45" r="8.0"/><circle cx="1551.40" cy="734.55" r="8.0"/><circle cx="1572.90" cy="813.73" r="8.0"/><circle cx="1594.40" cy="777.48" r="8.0"/><circle cx="1615.90" cy="785.98" r="8.0"/><circle cx="1637.40" cy="781.44" r="8.0"/><circle cx="1658.90" cy="764.79" r="8.0"/><circle cx="1680.40" cy="776.35" r="8.0"/></g>
<path d="M1099.90,961.66C1107.07,961.74,1114.23,961.81,1121.40,962.12C1128.57,962.42,1135.73,963.59,1142.90,963.59C1150.07,963.59,1157.23,963.59,1164.40,963.59C1171.57,963.59,1178.73,965.51,1185.90,965.51C1193.07,965.51,1200.23,961.12,1207.40,959.28C1214.57,957.45,1221.73,954.53,1228.90,954.53C1236.07,954.53,1243.23,958.77,1250.40,960.19C1257.57,961.61,1264.73,963.02,1271.90,963.02C1279.07,963.02,1286.23,958.72,1293.40,958.72C1300.57,958.72,1307.73,959.72,1314.90,960.76C1322.07,961.80,1329.23,964.95,1336.40,964.95C1343.57,964.95,1350.73,964.61,1357.90,963.93C1365.07,963.25,1372.23,937.20,1379.40,937.20C1386.57,937.20,1393.73,938.10,1400.90,939.91C1408.07,941.73,1415.23,962.68,1422.40,962.68C1429.57,962.68,1436.73,958.26,1443.90,958.26C1451.07,958.26,1458.23,968.35,1465.40,968.35C1472.57,968.35,1479.73,964.32,1486.90,961.55C1494.07,958.77,1501.23,954.13,1508.40,951.69C1515.57,949.26,1522.73,946.94,1529.90,946.94C1537.07,946.94,1544.23,947.39,1551.40,948.30C1558.57,949.20,1565.73,959.02,1572.90,960.76C1580.07,962.49,1587.23,963.36,1594.40,963.36C1601.57,963.36,1608.73,947.50,1615.90,947.50C1623.07,947.50,1630.23,963.93,1637.40,963.93C1644.57,963.93,1651.73,961.55,1658.90,961.55C1666.07,961.55,1673.23,963.25,1680.40,964.95" class="ln"/>
<g class="mk"><circle cx="1099.90" cy="961.66" r="8.0"/><circle cx="1121.40" cy="962.12" r="8.0"/><circle cx="1142.90" cy="963.59" r="8.0"/><circle cx="1164.40" cy="963.59" r="8.0"/><circle cx="1185.90" cy="965.51" r="8.0"/><circle cx="1207.40" cy="959.28" r="8.0"/><circle cx="1228.90" cy="954.53" r="8.0"/><circle cx="1250.40" cy="960.19" r="8.0"/><circle cx="1271.90" cy="963.02" r="8.0"/><circle cx="1293.40" cy="958.72" r="8.0"/><circle cx="1314.90" cy="960.76" r="8.0"/><circle cx="1336.40" cy="964.95" r="8.0"/><circle cx="1357.90" cy="963.93" r="8.0"/><circle cx="1379.40" cy="937.20" r="8.0"/><circle cx="1400.90" cy="939.91" r="8.0"/><circle cx="1422.40" cy="962.68" r="8.0"/><circle cx="1443.90" cy="958.26" r="8.0"/><circle cx="1465.40" cy="968.35" r="8.0"/><circle cx="1486.90" cy="961.55" r="8.0"/><circle cx="1508.40" cy="951.69" r="8.0"/><circle cx="1529.90" cy="946.94" r="8.0"/><circle cx="1551.40" cy="948.30" r="8.0"/><circle cx="1572.90" cy="960.76" r="8.0"/><circle cx="1594.40" cy="963.36" r="8.0"/><circle cx="1615.90" cy="947.50" r="8.0"/><circle cx="1637.40" cy="963.93" r="8.0"/><circle cx="1658.90" cy="961.55" r="8.0"/><circle cx="1680.40" cy="964.95" r="8.0"/></g>
<line x1="1680.40" y1="979.60" x2="1718.40" y2="979.60" class="cn"/>
<text x="1726.8" y="988.65" class="lb" textLength="105.0" lengthAdjust="spacingAndGlyphs">(not set)</text>
<line x1="1680.40" y1="522.50" x2="1718.40" y2="522.50" class="cn"/>
<text x="1726.8" y="531.55" class="lb" textLength="117.0" lengthAdjust="spacingAndGlyphs">Americas</text>
<line x1="1680.40" y1="408.60" x2="1718.40" y2="408.60" class="cn"/>
<text x="1726.8" y="417.65" class="lb" textLength="54.5" lengthAdjust="spacingAndGlyphs">Asia</text>
<line x1="1680.40" y1="639.51" x2="1718.40" y2="639.51" class="cn"/>
<text x="1726.8" y="648.56" class="lb" textLength="138.5" lengthAdjust="spacingAndGlyphs">Card Africa</text>
<line x1="1680.40" y1="776.35" x2="1718.40" y2="776.35" class="cn"/>
<text x="1726.8" y="785.40" class="lb" textLength="88.8" lengthAdjust="spacingAndGlyphs">Europe</text>
<line x1="1680.40" y1="964.95" x2="1718.40" y2="944.40" class="cn"/>
<text x="1726.8" y="953.05" class="lb" textLength="99.8" lengthAdjust="spacingAndGlyphs">Oceania</text>
</svg>
</body></html>
